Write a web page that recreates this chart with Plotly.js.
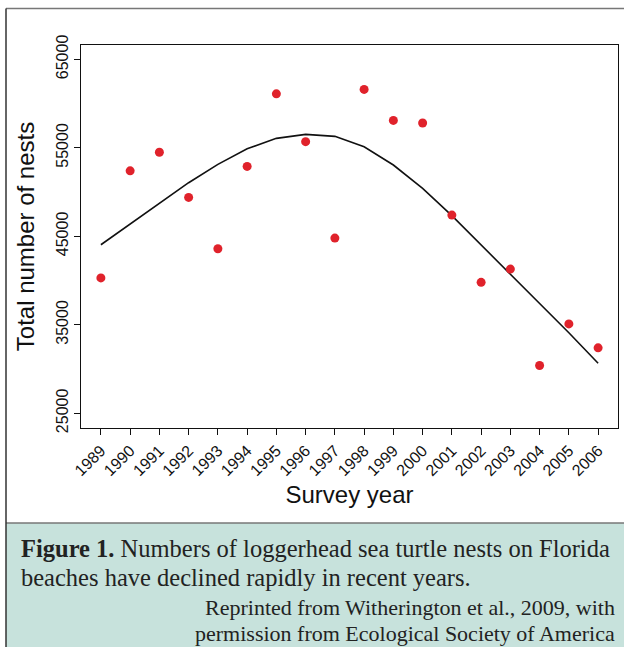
<!DOCTYPE html>
<html>
<head>
<meta charset="utf-8">
<script src="https://cdn.plot.ly/plotly-3.0.1.min.js"></script>
<style>
  html, body { margin: 0; padding: 0; background: #ffffff; }
  #chart { width: 624px; height: 647px; }
</style>
</head>
<body>
<div id="chart"></div>
<script>
// ---- Data ----
const years = [1989, 1990, 1991, 1992, 1993, 1994, 1995, 1996, 1997, 1998, 1999, 2000, 2001, 2002, 2003, 2004, 2005, 2006];
const nests = [40300, 52400, 54500, 49400, 43600, 52900, 61100, 55700, 44800, 61600, 58100, 57800, 47400, 39800, 41300, 30400, 35100, 32400];
const fitted = [44050, 46370, 48730, 51060, 53130, 54900, 56070, 56520, 56300, 55120, 53060, 50420, 47330, 44020, 40820, 37500, 34110, 30650];
const yTicks = [25000, 35000, 45000, 55000, 65000];
const xTickLabels = years.map(String);

const captionLine1 = "<b>Figure 1.</b> Numbers of loggerhead sea turtle nests on Florida";
const captionLine2 = "beaches have declined rapidly in recent years.";
const creditLine1 = "Reprinted from Witherington et al., 2009, with";
const creditLine2 = "permission from Ecological Society of America";

// ---- Layout helpers (pixel -> paper) ----
const W = 624, H = 647;
const M = { l: 81, r: 6, t: 45, b: 219 };
const PW = W - M.l - M.r, PH = H - M.t - M.b;
const px = v => (v - M.l) / PW;
const py = v => (H - M.b - v) / PH;

const traces = [
  {
    x: years, y: fitted, type: 'scatter', mode: 'lines',
    line: { color: '#111111', width: 1.6 },
    hoverinfo: 'skip', showlegend: false
  },
  {
    x: years, y: nests, type: 'scatter', mode: 'markers',
    marker: { color: '#e0222b', size: 9 },
    showlegend: false
  }
];

const axisFont = { family: 'Liberation Sans, Arial, sans-serif', size: 16, color: '#111' };
const serif = 'Liberation Serif, Times New Roman, serif';

const layout = {
  width: W, height: H,
  margin: M,
  paper_bgcolor: '#ffffff', plot_bgcolor: '#ffffff',
  showlegend: false,
  xaxis: {
    range: [1988.32, 2006.68],
    tickmode: 'array', tickvals: years, ticktext: xTickLabels,
    tickangle: -45, tickfont: axisFont,
    ticks: 'outside', ticklen: 6, tickcolor: '#111', tickwidth: 1,
    showgrid: false, zeroline: false,
    showline: true, mirror: true, linecolor: '#111', linewidth: 1,
    title: { text: 'Survey year', font: { family: 'Liberation Sans, Arial, sans-serif', size: 24, color: '#111' }, standoff: 8 }
  },
  yaxis: {
    range: [23340, 66620],
    tickmode: 'array', tickvals: yTicks, ticktext: yTicks.map(String),
    tickangle: -90, tickfont: axisFont,
    ticks: 'outside', ticklen: 6, tickcolor: '#111', tickwidth: 1,
    showgrid: false, zeroline: false,
    showline: true, mirror: true, linecolor: '#111', linewidth: 1,
    title: { text: 'Total number of nests', font: { family: 'Liberation Sans, Arial, sans-serif', size: 24, color: '#111' }, standoff: 12 }
  },
  shapes: [
    { type: 'rect', xref: 'paper', yref: 'paper', x0: px(6), x1: px(630), y0: py(523), y1: py(660),
      fillcolor: '#c7e2dc', line: { width: 0 }, layer: 'below' },
    { type: 'line', xref: 'paper', yref: 'paper', x0: px(6), x1: px(630), y0: py(523), y1: py(523),
      line: { color: '#777777', width: 1.5 } },
    { type: 'line', xref: 'paper', yref: 'paper', x0: px(6), x1: px(630), y0: py(8.5), y1: py(8.5),
      line: { color: '#777777', width: 1.5 } },
    { type: 'line', xref: 'paper', yref: 'paper', x0: px(6), x1: px(6), y0: py(8.5), y1: py(660),
      line: { color: '#333333', width: 1.5 } }
  ],
  annotations: [
    { xref: 'paper', yref: 'paper', x: px(19), y: py(548), xanchor: 'left', yanchor: 'middle',
      text: captionLine1, showarrow: false,
      font: { family: serif, size: 24.5, color: '#222' } },
    { xref: 'paper', yref: 'paper', x: px(19), y: py(577), xanchor: 'left', yanchor: 'middle',
      text: captionLine2, showarrow: false,
      font: { family: serif, size: 24.5, color: '#222' } },
    { xref: 'paper', yref: 'paper', x: px(617), y: py(607), xanchor: 'right', yanchor: 'middle',
      text: creditLine1, showarrow: false,
      font: { family: serif, size: 22, color: '#222' } },
    { xref: 'paper', yref: 'paper', x: px(617), y: py(633), xanchor: 'right', yanchor: 'middle',
      text: creditLine2, showarrow: false,
      font: { family: serif, size: 22, color: '#222' } }
  ]
};

Plotly.newPlot('chart', traces, layout, { displayModeBar: false, staticPlot: true });
</script>
</body>
</html>
